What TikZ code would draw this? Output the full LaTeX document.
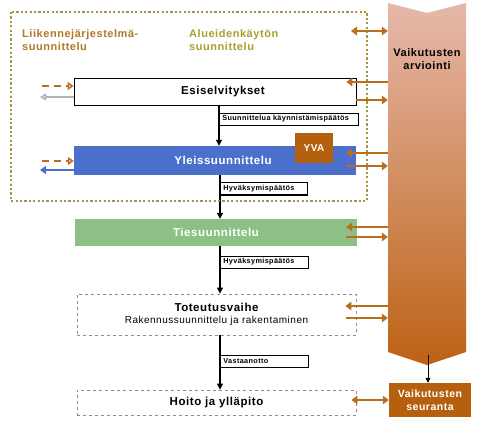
\documentclass[tikz,border=0pt]{standalone}
\usepackage{fontspec}
\setmainfont{Liberation Sans}[LetterSpace=5]
\usetikzlibrary{arrows.meta,shadows,calc}
\definecolor{brn}{HTML}{B86E1E}
\definecolor{blueb}{HTML}{4A70CC}
\definecolor{greenb}{HTML}{8CC085}
\definecolor{yvac}{HTML}{B4600F}
\definecolor{coltop}{HTML}{E6B8AA}
\definecolor{colmid}{HTML}{D49274}
\definecolor{colbot}{HTML}{BD6215}
\definecolor{liik}{HTML}{B07828}
\definecolor{alue}{HTML}{A8A02C}
\definecolor{dotc}{HTML}{A89440}
\definecolor{dashg}{HTML}{8C8C8C}
\begin{document}
\begin{tikzpicture}[x=1pt,y=-1pt,
  boxbase/.style={inner sep=0pt, minimum width=282pt, minimum height=27pt,
    font=\bfseries\fontsize{11.5}{13}\selectfont},
  shadowbox/.style={boxbase, draw=black, line width=0.8pt, fill=white,
    drop shadow={shadow xshift=1.3pt, shadow yshift=-1.3pt, opacity=1, fill=black}},
  colorbox/.style={boxbase, text=white},
  dashbox/.style={boxbase, draw=dashg, dashed, line width=0.8pt, minimum width=279pt},
  lab/.style={draw=black, line width=0.7pt, fill=white, anchor=west, inner xsep=3pt, inner ysep=0pt,
    minimum height=12pt, align=left, font=\bfseries\fontsize{7.3}{8}\selectfont,
    drop shadow={shadow xshift=1pt, shadow yshift=-1pt, opacity=1, fill=black}},
  brarrow/.style={draw=brn, line width=2.8pt, -{Triangle[length=6pt,width=8.5pt]}},
  brdouble/.style={draw=brn, line width=2.8pt, {Triangle[length=6pt,width=8.5pt]}-{Triangle[length=6pt,width=8.5pt]}},
  dasharrow/.style={draw=brn, line width=2.2pt, dash pattern=on 7pt off 5pt, -{Triangle[open,length=6pt,width=8pt]}},
  grayarrow/.style={draw=gray!60, line width=1.4pt, -{Triangle[open,length=6pt,width=7pt]}},
  bluearrow/.style={draw=blueb, line width=2.2pt, -{Triangle[length=6pt,width=8pt]}},
  vert/.style={draw=black, line width=1.2pt, -{Triangle[length=6pt,width=6pt]}},
  thinarrow/.style={draw=black, line width=0.9pt, -{Triangle[length=5pt,width=5pt]}},
  heading/.style={anchor=north west, align=left, inner sep=0pt, font=\bfseries\fontsize{11}{13.5}\selectfont}
]
\useasboundingbox (0,0) rectangle (497,420);

% impact assessment column
\shade[top color=coltop, middle color=colmid, bottom color=colbot]
  (388,3) -- (427,13) -- (466,3) -- (466,352) -- (427,365) -- (388,352) -- cycle;
\node[inner sep=0pt, minimum width=78pt, minimum height=362pt] (col) at (427,184) {};
\node[align=center, inner sep=0pt, font=\bfseries\fontsize{11}{13.5}\selectfont] (colt) at (427,59) {Vaikutusten\\arviointi};

% headings
\node[heading, text=liik] (liikh) at (22,29) {Liikennejärjestelmä-\\suunnittelu};
\node[heading, text=alue] (alueh) at (189,29) {Alueidenkäytön\\suunnittelu};

% phase boxes
\node[shadowbox] (esi) at (215,91.5) {\hspace*{16pt}Esiselvitykset};
\node[colorbox, fill=blueb, minimum height=29pt] (yle) at (215,160.5) {\hspace*{16pt}Yleissuunnittelu};
\node[inner sep=0pt, fill=yvac, text=white, minimum width=38pt, minimum height=30pt,
  font=\bfseries\fontsize{10}{12}\selectfont] (yva) at (314,148) {YVA};
\node[colorbox, fill=greenb] (tie) at (216,232.5) {Tiesuunnittelu};
\node[dashbox, minimum height=41pt, align=center] (tot) at (216.5,314.5)
  {Toteutusvaihe\\[-1pt]{\mdseries\fontsize{10}{12}\selectfont Rakennussuunnittelu ja rakentaminen}};
\node[dashbox, minimum height=25pt] (hoi) at (216.5,402.5) {Hoito ja ylläpito};
\node[inner sep=0pt, fill=yvac, text=white, minimum width=82pt, minimum height=34pt, align=center,
  font=\bfseries\fontsize{10.5}{13}\selectfont] (seu) at (430,400) {Vaikutusten\\seuranta};

% vertical flow arrows and labels
\coordinate (vx1) at (219,0);
\coordinate (vx2) at (220,0);
\draw[vert] (esi.south -| vx1) -- (yle.north -| vx1);
\draw[vert] (yle.south -| vx2) -- (tie.north -| vx2);
\draw[vert] (tie.south -| vx2) -- (tot.north -| vx2);
\draw[vert] (tot.south -| vx2) -- (hoi.north -| vx2);
\node[lab, text width=133pt] (lab1) at (219,119) {Suunnittelua käynnistämispäätös};
\node[lab, text width=81pt] (lab2) at (220,188.5) {Hyväksymispäätös};
\node[lab, text width=82pt] (lab3) at (220,262) {Hyväksymispäätös};
\node[lab, text width=82pt] (lab4) at (220,361) {Vastaanotto};

% dotted planning frame
\draw[draw=dotc, line width=2.2pt, dash pattern=on 2.2pt off 2.2pt] (11,12) rectangle (367,201);

% left-side arrows
\coordinate (l1) at (42,86);
\coordinate (l2) at (40,97);
\coordinate (l3) at (42,161);
\coordinate (l4) at (40,170);
\draw[dasharrow] (l1) -- (esi.west |- l1);
\draw[grayarrow] (esi.west |- l2) -- (l2);
\draw[dasharrow] (l3) -- (yle.west |- l3);
\draw[bluearrow] (yle.west |- l4) -- (l4);

% right-side arrows to/from the column
\coordinate (topl) at (351,31);
\draw[brdouble] (topl) -- (col.west |- topl);
\draw[brarrow, shorten >=-10pt] (col.west |- 0,82) -- (esi.east |- 0,82);
\draw[brarrow] (esi.east |- 0,100) -- (col.west |- 0,100);
\draw[brarrow, shorten >=-10pt] (col.west |- 0,153) -- (yle.east |- 0,153);
\draw[brarrow, shorten <=-10pt] (yle.east |- 0,166) -- (col.west |- 0,166);
\draw[brarrow, shorten >=-11pt] (col.west |- 0,227) -- (tie.east |- 0,227);
\draw[brarrow, shorten <=-11pt] (tie.east |- 0,237) -- (col.west |- 0,237);
\draw[brarrow, shorten >=-11pt] (col.west |- 0,306) -- (tot.east |- 0,306);
\draw[brarrow, shorten <=-10pt] (tot.east |- 0,318) -- (col.west |- 0,318);
\draw[brdouble, shorten <=-5pt] (hoi.east |- 0,400) -- (seu.west |- 0,400);

% column to follow-up
\coordinate (colin) at (428,355);
\draw[thinarrow] (colin) -- (colin |- seu.north);
\end{tikzpicture}
\end{document}
